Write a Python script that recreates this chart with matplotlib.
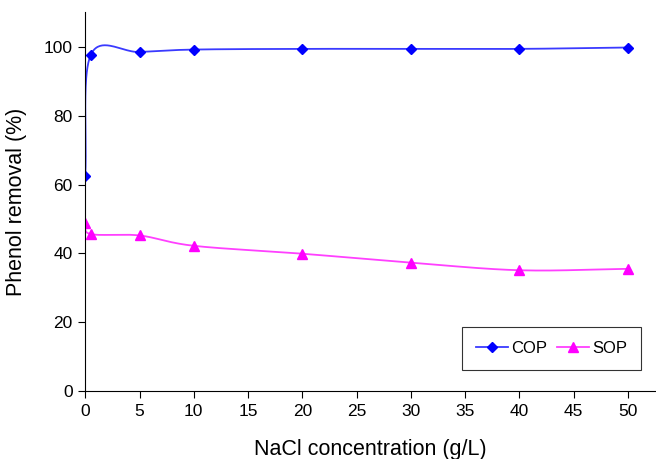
import numpy as np
import matplotlib
matplotlib.use("Agg")
import matplotlib.pyplot as plt

plt.rcParams['font.family'] = ['Liberation Sans', 'DejaVu Sans']

nacl = [0, 0.5, 5, 10, 20, 30, 40, 50]
cop = [62.5, 97.6, 98.5, 99.2, 99.4, 99.4, 99.4, 99.8]
sop = [48.8, 45.6, 45.2, 42.2, 39.9, 37.3, 35.1, 35.5]


def smooth(x, y, n=40):
    # catmull-rom curve, a bit like the excel smoothed line
    x = np.asarray(x, float)
    y = np.asarray(y, float)
    px = np.concatenate([[2 * x[0] - x[1]], x, [2 * x[-1] - x[-2]]])
    py = np.concatenate([[2 * y[0] - y[1]], y, [2 * y[-1] - y[-2]]])
    xs, ys = [], []
    for i in range(1, len(px) - 2):
        t = np.linspace(0, 1, n)
        p0, p1, p2, p3 = [np.array([px[j], py[j]]) for j in range(i - 1, i + 3)]
        t = t[:, None]
        pts = 0.5 * ((2 * p1) + (-p0 + p2) * t + (2 * p0 - 5 * p1 + 4 * p2 - p3) * t ** 2
                     + (-p0 + 3 * p1 - 3 * p2 + p3) * t ** 3)
        xs.extend(pts[:, 0])
        ys.extend(pts[:, 1])
    return np.array(xs), np.array(ys)


fig = plt.figure(figsize=(6.56, 4.59), dpi=100)
ax = fig.add_axes([0.13, 0.148, 0.87, 0.825])

sx, sy = smooth(nacl, cop)
ax.plot(sx, sy, color='#3a3aff', lw=1.3)
ax.plot(nacl, cop, ls='none', marker='D', ms=5, color='#0000ff')
sx, sy = smooth(nacl, sop)
ax.plot(sx, sy, color='#ff40ff', lw=1.3)
ax.plot(nacl, sop, ls='none', marker='^', ms=7, color='#ff00ff')

# legend handles
h1, = ax.plot([], [], color='#3a3aff', lw=1.3, marker='D', ms=5, mfc='#0000ff', mec='#0000ff')
h2, = ax.plot([], [], color='#ff40ff', lw=1.3, marker='^', ms=7, mfc='#ff00ff', mec='#ff00ff')
leg = ax.legend([h1, h2], ['COP', 'SOP'], loc='lower right', bbox_to_anchor=(0.974, 0.055),
                ncol=2, fontsize=12, frameon=True, fancybox=False, edgecolor='black',
                handlelength=1.9, columnspacing=0.6, handletextpad=0.2, borderpad=0.85,
                borderaxespad=0)
leg.get_frame().set_linewidth(0.8)

ax.set_xlim(0, 52.6)
ax.set_ylim(0, 110)
ax.set_xticks(range(0, 51, 5))
ax.set_yticks(range(0, 101, 20))
ax.spines['top'].set_visible(False)
ax.spines['right'].set_visible(False)
ax.tick_params(labelsize=12.5, direction='out', length=5, width=0.8, pad=4)
ax.set_xlabel('NaCl concentration (g/L)', fontsize=15.5, labelpad=15)
ax.set_ylabel('Phenol removal (%)', fontsize=15.5, labelpad=12)

fig.savefig('out.png', dpi=100)
